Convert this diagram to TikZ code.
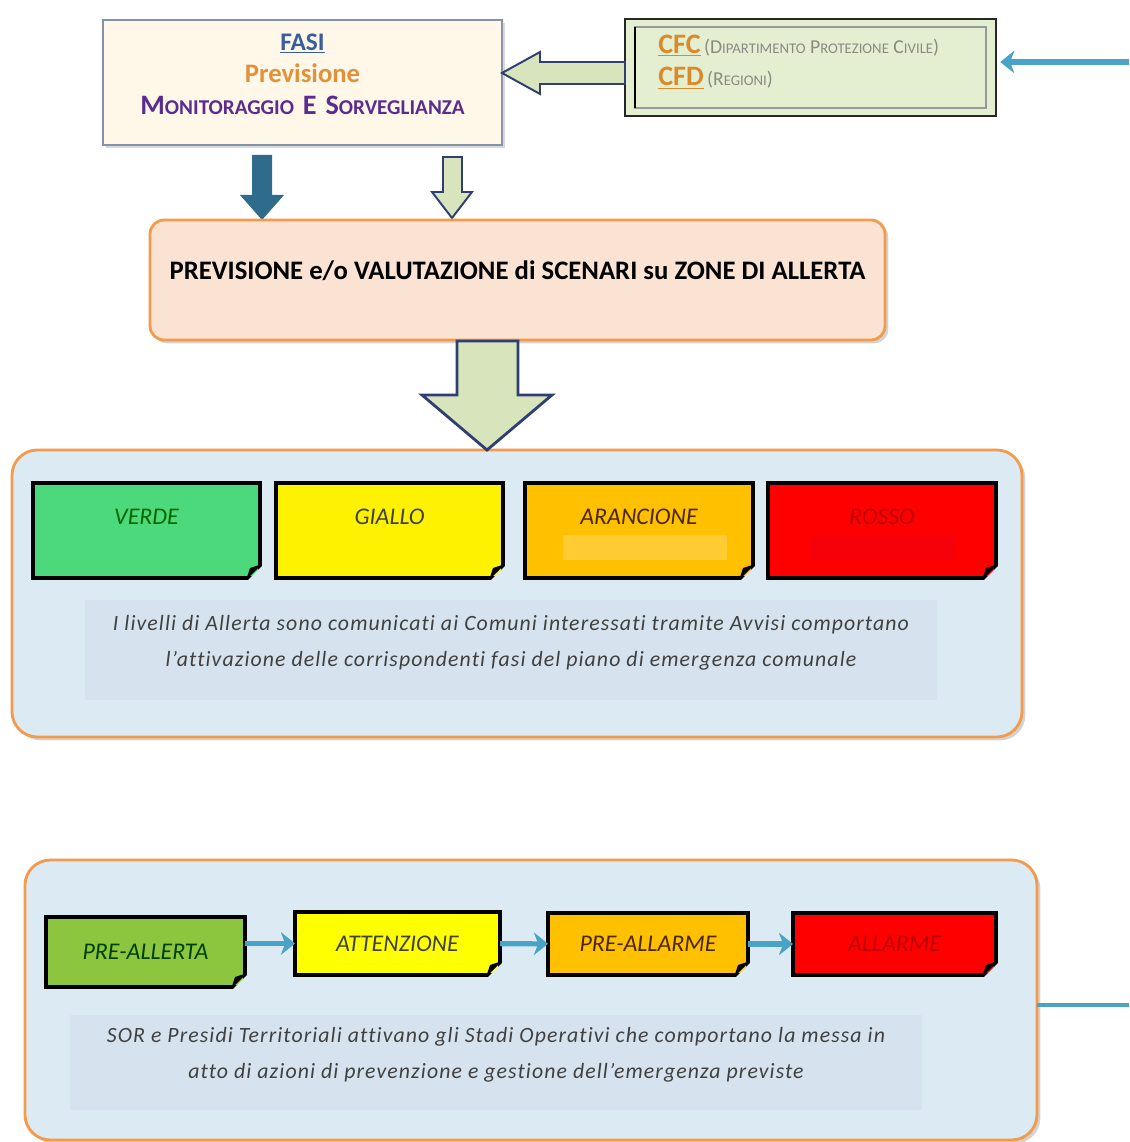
\documentclass[tikz,border=0pt]{standalone}
\usepackage{fontspec}
\setmainfont{Carlito}
\usetikzlibrary{positioning,fit,calc,shadows,arrows.meta}

\definecolor{fasiFill}{HTML}{FFF8E8}
\definecolor{fasiDraw}{HTML}{8393A8}
\definecolor{fasiBlue}{HTML}{3A5E9C}
\definecolor{prevOrange}{HTML}{E0913A}
\definecolor{monPurple}{HTML}{5B2C8F}
\definecolor{cfcFill}{HTML}{E4EFD2}
\definecolor{cfcOrange}{HTML}{D98A2B}
\definecolor{cfcGray}{HTML}{8A8A80}
\definecolor{blockFill}{HTML}{D8E4BC}
\definecolor{blockDraw}{HTML}{2F3F73}
\definecolor{darkArrow}{HTML}{2E6B8C}
\definecolor{prevFill}{HTML}{FBE3D3}
\definecolor{panelDraw}{HTML}{F39A4B}
\definecolor{panelFill}{HTML}{DCEBF3}
\definecolor{noteFill}{HTML}{D6E3EE}
\definecolor{noteText}{HTML}{404040}
\definecolor{lineBlue}{HTML}{4AA3C6}
\definecolor{verdeFill}{HTML}{4CD97B}
\definecolor{gialloFill}{HTML}{FFF200}
\definecolor{arancioFill}{HTML}{FFC000}
\definecolor{rossoFill}{HTML}{FF0000}
\definecolor{preallFill}{HTML}{8CC63F}
\definecolor{attenzFill}{HTML}{FFFF00}

% big and small capitals
\newcommand\fasisc[2]{{\fontsize{20}{23}\selectfont#1}{\fontsize{15}{23}\selectfont#2}}
\newcommand\cfcsc[2]{{\fontsize{14}{23}\selectfont#1}{\fontsize{10.5}{23}\selectfont#2}}

\begin{document}
\begin{tikzpicture}[x=0.025cm,y=-0.025cm,
  fitbox/.style={inner sep=0pt,outer sep=0pt},
  fasibox/.style={fitbox,draw=fasiDraw,line width=1.8pt,fill=fasiFill,
    drop shadow={opacity=0.3,shadow xshift=2pt,shadow yshift=-2pt}},
  cfcbox/.style={fitbox,draw=black!85,line width=1.6pt,fill=cfcFill},
  prevbox/.style={fitbox,draw=panelDraw,line width=2pt,fill=prevFill,
    rounded corners=10pt,drop shadow={opacity=0.35}},
  panel/.style={fitbox,draw=panelDraw,line width=2pt,fill=panelFill,
    rounded corners=18pt,drop shadow={opacity=0.35}},
  notebox/.style={fitbox,fill=noteFill,align=center,text=noteText,
    font=\fontsize{15.5}{25.5}\selectfont\itshape\addfontfeatures{LetterSpace=5,Ligatures=NoCommon}},
  lvl/.style={fitbox,draw=black,line width=2.6pt,fill=#1},
  lvltxt/.style={font=\fontsize{17}{18}\selectfont\itshape},
  blockarr/.style={draw=blockDraw,line width=1.4pt,fill=blockFill,line join=miter},
  flowarr/.style={draw=lineBlue,line width=3.6pt,-{Stealth[length=10pt,width=16pt,inset=3pt]}},
]
\useasboundingbox (0,0) rectangle (1129,1142);

% top row
\node (fasi) [fasibox,fit={(103,20) (502,145)},align=center,
  font=\fontsize{19}{23}\selectfont\bfseries]
  {\textcolor{fasiBlue}{\fontsize{18}{23}\selectfont\underline{FASI}}\\
   \textcolor{prevOrange}{Previsione}\\
   \textcolor{monPurple}{\fasisc{M}{ONITORAGGIO} \fasisc{E}{} \fasisc{S}{ORVEGLIANZA}}};
\node (cfc) [cfcbox,fit={(625,19) (996,116)}] {};
\draw[black!40,line width=1.2pt] ($(cfc.north west)+(10,8)$) rectangle ($(cfc.south east)+(-10,-8)$);
\draw[black,line width=1.8pt] ($(cfc.north west)+(10,8)$) -- ($(cfc.south west)+(10,-8)$);
\node (cfctxt) [anchor=west,align=left,inner sep=0pt,font=\fontsize{14}{23}\selectfont]
  at (658,62)
  {{\fontsize{20}{23}\selectfont\bfseries\textcolor{cfcOrange}{\underline{CFC}}}\,%
   \textcolor{cfcGray}{(\cfcsc{D}{IPARTIMENTO} \cfcsc{P}{ROTEZIONE} \cfcsc{C}{IVILE})}\\
   {\fontsize{20}{23}\selectfont\bfseries\textcolor{cfcOrange}{\underline{CFD}}}\,%
   \textcolor{cfcGray}{(\cfcsc{R}{EGIONI})}};

\coordinate (inR) at (1129,62);
\draw[flowarr,shorten >=3pt] (inR) -- (inR -| cfc.east);
\draw[blockarr] (502,73) -- (540,52) -- (540,62) -- (625,62) -- (625,84)
  -- (540,84) -- (540,94) -- cycle;

% arrows down to the scenarios
\fill[darkArrow] (252,155) -- (272,155) -- (272,195) -- (284,195) -- (262,220)
  -- (240,195) -- (252,195) -- cycle;
\draw[blockarr] (443,157) -- (462,157) -- (462,192) -- (472,192) -- (452,218)
  -- (432,192) -- (443,192) -- cycle;

\node (scenari) [prevbox,fit={(150,220) (885,340)},
  font=\fontsize{19}{20}\selectfont\bfseries]
  {PREVISIONE e/o VALUTAZIONE di SCENARI su ZONE DI ALLERTA};

% alert levels
\node (panelA) [panel,fit={(12,450) (1022,737)}] {};
\draw[blockarr,line width=2pt] (457,341) -- (518,341) -- (518,395) -- (552,395)
  -- (487,450) -- (422,395) -- (457,395) -- cycle;

\node (verde) [lvl=verdeFill,fit={(33,483) (260,578)},
  label={[lvltxt,text=green!40!black,yshift=0.33cm]center:VERDE}] {};
\node (giallo) [lvl=gialloFill,fit={(276,483) (503,578)},
  label={[lvltxt,text=black!75,yshift=0.33cm]center:GIALLO}] {};
\node (arancione) [lvl=arancioFill,fit={(525,483) (753,578)},
  label={[lvltxt,text=black!70!orange,yshift=0.33cm]center:ARANCIONE}] {};
\node (rosso) [lvl=rossoFill,fit={(768,483) (996,578)},
  label={[lvltxt,text=red!75!black,yshift=0.33cm]center:ROSSO}] {};
\fill[arancioFill!80!white] (563,535) rectangle (727,560);
\fill[red!85!purple] (810,535) rectangle (955,560);

\node (notaA) [notebox,fit={(85,600) (937,700)}]
  {I livelli di Allerta sono comunicati ai Comuni interessati tramite Avvisi comportano\\
   l’attivazione delle corrispondenti fasi del piano di emergenza comunale};

% operative stages
\node (panelB) [panel,fit={(25,860) (1037,1140)}] {};
\node (preallerta) [lvl=preallFill,fit={(46,917) (245,987)},
  label={[lvltxt,text=green!25!black]center:PRE-ALLERTA}] {};
\node (attenzione) [lvl=attenzFill,fit={(295,912) (500,975)},
  label={[lvltxt,text=black!75]center:ATTENZIONE}] {};
\node (preallarme) [lvl=arancioFill,fit={(548,913) (748,975)},
  label={[lvltxt,text=black!70!orange]center:PRE-ALLARME}] {};
\node (allarme) [lvl=rossoFill,fit={(793,913) (996,975)},
  label={[lvltxt,text=red!75!black]center:ALLARME}] {};

\draw[flowarr] (preallerta.east |- attenzione.west) -- (attenzione.west);
\draw[flowarr] (attenzione) -- (preallarme);
\draw[flowarr] (preallarme) -- (allarme);

% folded corners
\foreach \n in {verde,giallo,arancione,rosso,preallerta,attenzione,preallarme,allarme}{
  \fill[panelFill] ($(\n.south east)+(-14,4)$) -- ($(\n.south east)+(4,4)$)
    -- ($(\n.south east)+(4,-14)$) -- cycle;
  \fill[black] ($(\n.south east)+(-14,2)$) -- ($(\n.south east)+(2,-14)$)
    -- ($(\n.south east)+(-10,-10)$) -- cycle;
}

\node (notaB) [notebox,fit={(70,1015) (922,1110)}]
  {SOR e Presidi Territoriali attivano gli Stadi Operativi che comportano la messa in\\
   atto di azioni di prevenzione e gestione dell’emergenza previste};

\coordinate (outR) at (1129,1005);
\draw[lineBlue,line width=3.2pt] (outR -| panelB.east) -- (outR);
\end{tikzpicture}
\end{document}
